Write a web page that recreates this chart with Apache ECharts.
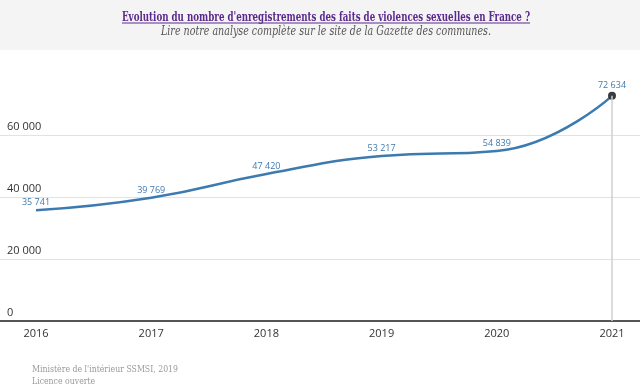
<!DOCTYPE html>
<html><head><meta charset="utf-8">
<script src="https://cdn.jsdelivr.net/npm/echarts@6/dist/echarts.min.js"></script>
<style>html,body{margin:0;padding:0;background:#fff}#c{width:640px;height:392px}</style>
</head><body><div id="c"></div>
<script>
var years = [2016, 2017, 2018, 2019, 2020, 2021];
var values = [35741, 39769, 47420, 53217, 54839, 72634];
var yTicks = [0, 20000, 40000, 60000];
var titleText = "Evolution du nombre d'enregistrements des faits de violences sexuelles en France ?";
var subtitleText = "Lire notre analyse complète sur le site de la Gazette des communes.";
var sourceText = "Ministère de l'intérieur SSMSI, 2019";
var licenceText = "Licence ouverte";

function fmt(v){ return String(v).replace(/\B(?=(\d{3})+(?!\d))/g, ' '); }
var mctx = document.createElement('canvas').getContext('2d');
function fitScale(text, font, target){ mctx.font = font; var w = mctx.measureText(text).width; return w > 0 ? target / w : 1; }

var chart = echarts.init(document.getElementById('c'), null, {renderer:'canvas'});
var lastIdx = years.length - 1;
var seriesData = years.map(function(y,i){
  var d = {value:[y, values[i]]};
  if (i === lastIdx) { d.symbol = 'circle'; d.symbolSize = 8; d.itemStyle = {color:'#3a3a3a'}; }
  return d;
});
var serif = '"DejaVu Serif","Liberation Serif",serif';
var tFont = 'bold 12px ' + serif, sFont = 'italic 12px ' + serif, fFont = '10px ' + serif;
var tS = fitScale(titleText, tFont, 408), sS = fitScale(subtitleText, sFont, 330), fS = fitScale(sourceText, fFont, 146);
chart.setOption({
  animation:false,
  backgroundColor:'#ffffff',
  graphic:[
    {type:'rect', left:0, top:0, shape:{width:640, height:50}, style:{fill:'#f4f4f4'}, z:-1},
    {type:'text', x:122, y:18, scaleX:tS, originX:0, originY:0, style:{text:titleText, fill:'#5b2a8e', font:tFont, align:'left', verticalAlign:'middle'}},
    {type:'rect', left:122, top:22.5, shape:{width:408, height:1}, style:{fill:'#5b2a8e'}},
    {type:'text', x:161, y:32, scaleX:sS, originX:0, originY:0, style:{text:subtitleText, fill:'#555', font:sFont, align:'left', verticalAlign:'middle'}},
    {type:'text', x:32, y:369, scaleX:fS, originX:0, originY:0, style:{text:sourceText, fill:'#999', font:fFont, verticalAlign:'middle'}},
    {type:'text', x:32, y:381, scaleX:fS, originX:0, originY:0, style:{text:licenceText, fill:'#999', font:fFont, verticalAlign:'middle'}}
  ],
  grid:{left:0, right:0, top:73, bottom:71, containLabel:false},
  xAxis:{
    type:'value', min:2015.6875, max:2021.243,
    splitLine:{show:false},
    axisTick:{show:false},
    axisLine:{show:true, lineStyle:{color:'#555', width:2}},
    axisLabel:{customValues:years, color:'#333', fontSize:11, fontFamily:'"Open Sans",sans-serif', margin:7, formatter:function(v){return String(v);}}
  },
  yAxis:{
    type:'value', min:0, max:80000, interval:20000,
    axisLine:{show:false}, axisTick:{show:false},
    splitLine:{show:true, showMaxLine:false, lineStyle:{color:'#e2e2e2', width:1}},
    axisLabel:{inside:true, showMaxLabel:false, margin:7, align:'left', verticalAlign:'bottom', padding:[0,0,3,0],
      color:'#333', fontSize:11, fontFamily:'"Open Sans",sans-serif', formatter:function(v){return fmt(v);}}
  },
  series:[{
    type:'line', data:seriesData, smooth:0.5,
    symbol:'circle', symbolSize:2, showSymbol:true, showAllSymbol:true,
    lineStyle:{color:'#3c7bb0', width:2.5},
    itemStyle:{color:'rgba(60,123,176,0)', borderWidth:0},
    label:{show:true, position:'top', distance:2, color:'#3f7ab0', fontSize:9, fontFamily:'"Open Sans",sans-serif',
      formatter:function(p){return fmt(p.value[1]);}},
    labelLayout:{hideOverlap:false},
    markLine:{silent:true, symbol:'none', label:{show:false},
      lineStyle:{color:'#cfcfcf', width:1.5, type:'solid'},
      data:[[{coord:[years[lastIdx], values[lastIdx]]},{coord:[years[lastIdx], 0]}]]},
    z:3
  }]
});
</script></body></html>
